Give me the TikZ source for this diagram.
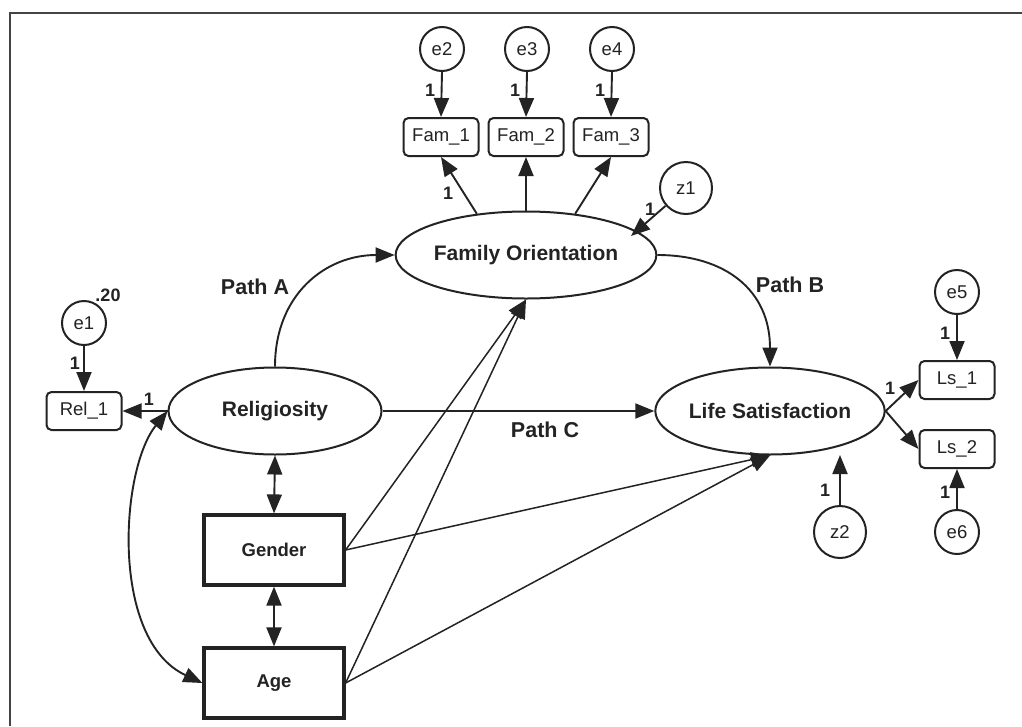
\documentclass[tikz,border=0pt]{standalone}
\usepackage{fontspec}
\setmainfont{Liberation Sans}
\usetikzlibrary{arrows.meta,shapes.geometric}
\definecolor{ink}{RGB}{35,35,35}
\begin{document}
\begin{tikzpicture}[x=1pt,y=1pt,
  lat/.style={ellipse, draw=ink, line width=2pt, minimum width=213pt, minimum height=87pt, inner sep=0pt, text=ink, font=\fontsize{21}{24}\selectfont\bfseries},
  ind/.style={rectangle, rounded corners=5pt, draw=ink, line width=2pt, minimum width=75pt, minimum height=38pt, inner sep=0pt, text=ink, font=\fontsize{18.5}{21}\selectfont},
  obsbox/.style={rectangle, draw=ink, line width=3.2pt, minimum width=140pt, minimum height=70pt, inner sep=0pt, text=ink, font=\fontsize{18.5}{21}\selectfont\bfseries},
  err/.style={circle, draw=ink, line width=2pt, minimum size=44pt, inner sep=0pt, text=ink, font=\fontsize{18.5}{21}\selectfont},
  dist/.style={err, minimum size=52pt},
  arr/.style={draw=ink, line width=1.9pt, -{Triangle[length=19pt,width=15pt]}},
  arrthin/.style={draw=ink, line width=1.5pt, -{Triangle[length=19pt,width=15pt]}},
  darr/.style={draw=ink, line width=1.9pt, {Triangle[length=19pt,width=15pt]}-{Triangle[length=19pt,width=15pt]}},
  one/.style={inner sep=0pt, text=ink, font=\fontsize{18}{20}\selectfont\bfseries},
  pathlbl/.style={inner sep=0pt, text=ink, font=\fontsize{21.5}{24}\selectfont\bfseries}
]
\useasboundingbox (0,-726) rectangle (1022,0);
\fill[white] (0,-726) rectangle (1022,0);
\draw[line width=1.8pt, draw=ink!85] (10,-726) -- (10,-13) -- (1022,-13);

% latent variables
\node[lat] (REL) at (275,-411) {Religiosity};
\node[lat] (FO) at (526,-255) {Family Orientation};
\node[lat] (LS) at (770,-411) {Life Satisfaction};
% exogenous observed
\node[obsbox] (GEN) at (274,-550) {Gender};
\node[obsbox] (AGE) at (274,-683) {Age};
% indicators
\node[ind] (REL1) at (84,-411) {Rel\_1};
\node[ind] (FAM1) at (441,-137) {Fam\_1};
\node[ind] (FAM2) at (526,-137) {Fam\_2};
\node[ind] (FAM3) at (611,-137) {Fam\_3};
\node[ind] (LS1) at (957,-380) {Ls\_1};
\node[ind] (LS2) at (957,-449) {Ls\_2};
% errors
\node[err] (e1) at (84,-323) {e1};
\node[err] (e2) at (442,-49) {e2};
\node[err] (e3) at (527,-49) {e3};
\node[err] (e4) at (612,-49) {e4};
\node[err] (e5) at (957,-292) {e5};
\node[err] (e6) at (957,-532) {e6};
\node[dist] (z1) at (686,-188) {z1};
\node[dist] (z2) at (840,-532) {z2};

\coordinate (z1tip) at (631,-236);
\coordinate (z2tip) at (840,-455);

% error arrows
\draw[arr] (e1.south) -- (REL1.north);
\draw[arr] (e2.south) -- (FAM1.north);
\draw[arr] (e3.south) -- (FAM2.north);
\draw[arr] (e4.south) -- (FAM3.north);
\draw[arr] (e5.south) -- (LS1.north);
\draw[arr] (e6.north) -- (LS2.south);
\draw[arr] (z1) -- (z1tip);
\draw[arr] (z2.north) -- (z2tip);

% loadings
\draw[arr] (REL.west) -- (REL1.east);
\draw[arr] (FO.140) -- (FAM1.south);
\draw[arr] (FO.north) -- (FAM2.south);
\draw[arr] (FO.40) -- (FAM3.south);
\draw[arr] (LS.east) -- (LS1.west);
\draw[arr] (LS.east) -- (LS2.west);

% structural paths
\draw[arr] (REL.north) .. controls (275,-295) and (325,-255) .. (FO.west);
\draw[arr] (FO.east) .. controls (725,-255) and (770,-290) .. (LS.north);
\draw[arr] (REL.east) -- (LS.west);
\draw[arrthin] (GEN.east) -- (FO.south);
\draw[arrthin] (AGE.east) -- (FO.south);
\draw[arrthin] (GEN.east) -- (LS.south);
\draw[arrthin] (AGE.east) -- (LS.south);

% covariances
\draw[darr] (REL.south) -- (GEN.north);
\draw[darr] (GEN.south) -- (AGE.north);
\draw[darr] (REL.west) .. controls (120,-470) and (110,-640) .. (AGE.west);

% labels
\node[pathlbl] (pA) at (255,-287) {Path A};
\node[pathlbl] (pB) at (790,-285) {Path B};
\node[pathlbl] (pC) at (545,-430) {Path C};
\node[one] (v20) at (108,-295) {.20};
\node[one] (l1) at (75,-363) {1};
\node[one] (l2) at (149,-399) {1};
\node[one] (l3) at (430,-90) {1};
\node[one] (l4) at (515,-90) {1};
\node[one] (l5) at (600,-90) {1};
\node[one] (l6) at (448,-193) {1};
\node[one] (l7) at (650,-209) {1};
\node[one] (l8) at (890,-388) {1};
\node[one] (l9) at (945,-333) {1};
\node[one] (l10) at (945,-492) {1};
\node[one] (l11) at (825,-490) {1};
\end{tikzpicture}
\end{document}
